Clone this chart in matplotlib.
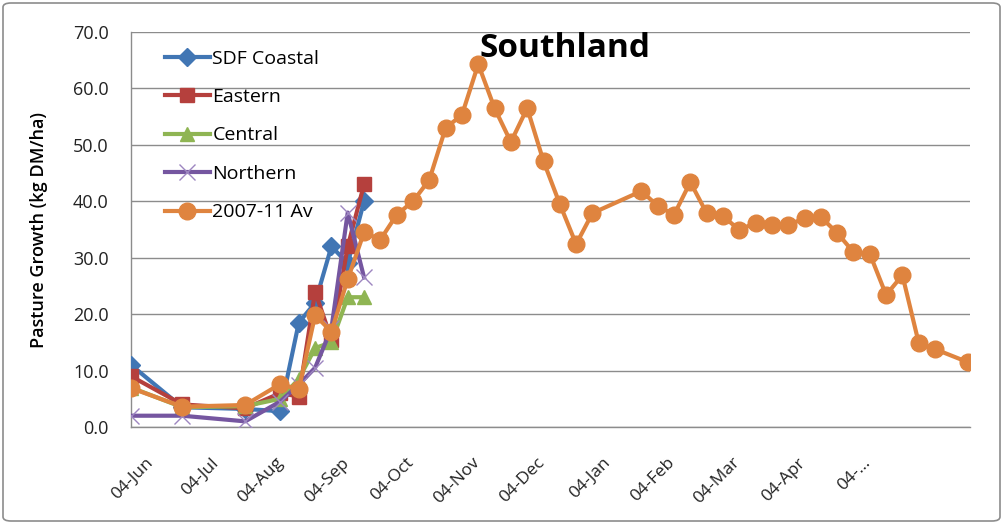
import numpy as np
import matplotlib
matplotlib.use("Agg")
import matplotlib.pyplot as plt
import matplotlib.transforms as mtransforms
from matplotlib.patches import FancyBboxPatch

start = np.datetime64("2011-06-04")

# day offsets from 04-Jun
region_days = [0, 22, 49, 64, 72, 79, 86, 93, 100]
sdf_coastal = [11.0, 3.5, 3.2, 2.8, 18.5, 22.0, 32.0, 29.0, 40.0]
eastern = [9.0, 4.0, 3.3, 6.0, 5.4, 24.0, 15.5, 32.0, 43.0]
central = [7.0, 3.5, 3.7, 5.0, 8.5, 14.0, 15.0, 23.0, 23.0]
northern = [2.0, 2.0, 1.0, 4.5, 7.5, 10.5, 17.5, 38.0, 26.5]

avg_days = [0, 22, 49, 64, 72, 79, 86, 93, 100, 107, 114, 121, 128, 135, 142,
            149, 156, 163, 170, 177, 184, 191, 198, 219, 226, 233, 240, 247,
            254, 261, 268, 275, 282, 289, 296, 303, 310, 317, 324, 331, 338,
            345, 359]
avg_0711 = [6.9, 3.6, 3.9, 7.6, 6.7, 19.8, 16.9, 26.2, 34.5, 33.2, 37.6, 40.0,
            43.8, 53.0, 55.3, 64.3, 56.5, 50.5, 56.5, 47.1, 39.5, 32.4, 37.9,
            41.8, 39.2, 37.6, 43.4, 37.9, 37.4, 34.9, 36.2, 35.8, 35.8, 37.0,
            37.2, 34.4, 31.0, 30.7, 23.4, 26.9, 14.9, 13.8, 11.5]

# axis labels every 28 days (major unit of the original chart)
tick_days = [0, 28, 56, 84, 112, 140, 168, 196, 224, 252, 280, 308]
tick_labels = ["04-Jun", "04-Jul", "04-Aug", "04-Sep", "04-Oct", "04-Nov",
               "04-Dec", "04-Jan", "04-Feb", "04-Mar", "04-Apr", "04-..."]

def to_dates(days):
    return (start + np.array(days, dtype="timedelta64[D]")).astype("datetime64[D]").astype(object)

plt.rcParams['font.family'] = ['Open Sans', 'DejaVu Sans']

fig = plt.figure(figsize=(10.03, 5.24), dpi=100)
ax = fig.add_axes([131/1003, 1-427/524, (970-131)/1003, (427-32)/524])

lw = 3.0
ax.plot(to_dates(region_days), sdf_coastal, color="#4176B4", lw=lw, marker="D",
        ms=9, label="SDF Coastal", zorder=3)
ax.plot(to_dates(region_days), eastern, color="#B5403D", lw=lw, marker="s",
        ms=10.5, label="Eastern", zorder=3)
ax.plot(to_dates(region_days), central, color="#8FB553", lw=lw, marker="^",
        ms=10.5, label="Central", zorder=3)
ax.plot(to_dates(region_days), northern, color="#7556A0", lw=lw, marker="x",
        ms=11, mew=1.0, mec="#9D86C0", label="Northern", zorder=3)
ax.plot(to_dates(avg_days), avg_0711, color="#DF843F", lw=lw, marker="o",
        ms=12, label="2007-11 Av", zorder=4)

x0 = start.astype(object)
x1 = (start + np.timedelta64(360, "D")).astype(object)
ax.set_xlim(x0, x1)
ax.set_ylim(0, 70)
ax.set_yticks(np.arange(0, 71, 10))
ax.set_yticklabels([f"{v:.1f}" for v in np.arange(0, 71, 10)], fontsize=13,
                   color="#222222")
ax.set_xticks(list(to_dates(tick_days)))
ax.set_xticklabels(tick_labels, rotation=45, ha="right", rotation_mode="anchor",
                   fontsize=12.5, color="#222222")
ax.tick_params(axis="y", length=0, pad=16)
ax.tick_params(axis="x", length=0, pad=20)
offset = mtransforms.ScaledTranslation(14/100, 0, fig.dpi_scale_trans)
for lab in ax.get_xticklabels():
    lab.set_transform(lab.get_transform() + offset)

ax.grid(axis="y", color="#8c8c8c", lw=1.0)
ax.set_axisbelow(True)
for s in ["top", "right"]:
    ax.spines[s].set_visible(False)
for s in ["left", "bottom"]:
    ax.spines[s].set_color("#8c8c8c")
    ax.spines[s].set_linewidth(1.0)

ax.set_ylabel("Pasture Growth (kg DM/ha)", fontsize=13, fontweight="semibold",
              labelpad=18)
ax.text(0.517, 0.958, "Southland", transform=ax.transAxes, ha="center",
        va="center", fontsize=24, fontweight="bold")

leg = ax.legend(loc="upper left", bbox_to_anchor=(0.031, 0.975), frameon=False,
                fontsize=14, handlelength=2.3, handletextpad=0.15,
                labelspacing=1.05, borderaxespad=0)

border = FancyBboxPatch((3/1003, 3/524), 997/1003, 518/524,
                        boxstyle="round,pad=0,rounding_size=0.008",
                        transform=fig.transFigure, fill=False,
                        edgecolor="#8c8c8c", lw=1.2)
fig.patches.append(border)

fig.savefig("out.png", dpi=100)
